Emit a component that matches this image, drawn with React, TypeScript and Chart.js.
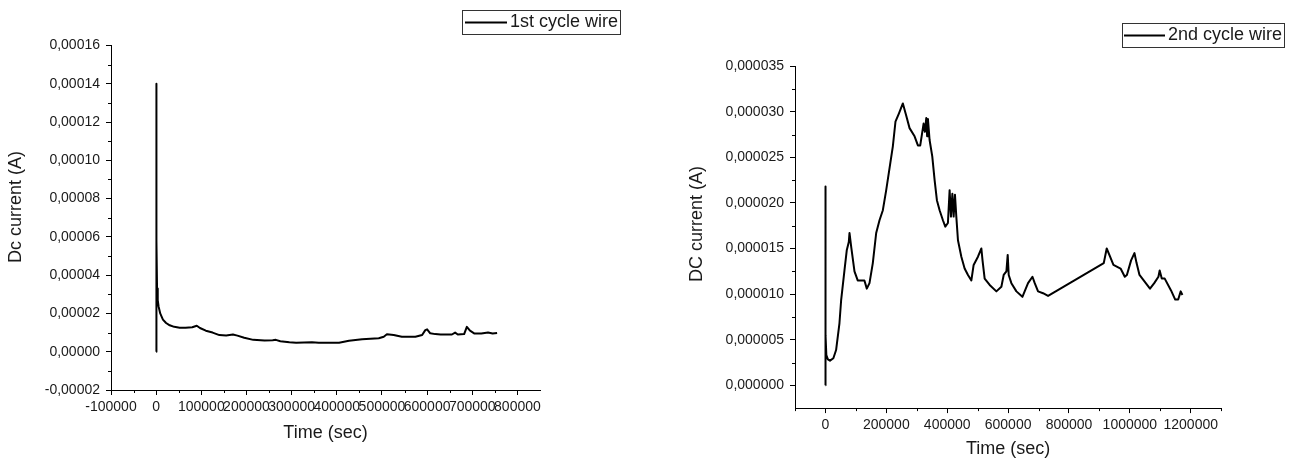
import React, { useEffect, useRef } from "react";
import { Chart, registerables } from "chart.js";

Chart.register(...registerables);

// ---------- data: 1st cycle wire ----------
const cycle1Label = "1st cycle wire";
const cycle1Time = [
  0, 0, 1200, 2000, 3500, 5500, 9000, 15000, 22000, 30000, 40000, 52000, 65000, 80000, 90000, 97000,
  110000, 125000, 140000, 155000, 170000, 180000, 195000, 215000, 240000, 258000, 265000, 275000, 295000,
  310000, 345000, 360000, 405000, 427000, 456000, 493000, 504000, 511000, 526000, 544000, 574000, 589000,
  596000, 600000, 607000, 618000, 630000, 655000, 662000, 668000, 682000, 688000, 695000, 705000, 720000,
  735000, 745000, 755000,
];
const cycle1Current = [
  0, 1.4e-4, 5.8e-5, 3.3e-5, 2.7e-5, 2.35e-5, 2.0e-5, 1.68e-5, 1.5e-5, 1.38e-5, 1.3e-5, 1.25e-5, 1.25e-5,
  1.28e-5, 1.36e-5, 1.24e-5, 1.1e-5, 1.0e-5, 8.7e-6, 8.5e-6, 9.0e-6, 8.4e-6, 7.3e-6, 6.2e-6, 5.8e-6, 6.0e-6,
  6.2e-6, 5.5e-6, 4.9e-6, 4.7e-6, 5.0e-6, 4.7e-6, 4.7e-6, 5.7e-6, 6.5e-6, 7.0e-6, 7.8e-6, 9.1e-6, 8.7e-6,
  7.8e-6, 7.8e-6, 8.7e-6, 1.13e-5, 1.17e-5, 9.6e-6, 9.2e-6, 9.0e-6, 9.0e-6, 1.0e-5, 9.0e-6, 9.2e-6, 1.3e-5,
  1.1e-5, 9.5e-6, 9.5e-6, 1.0e-5, 9.5e-6, 9.8e-6,
];
const cycle1TimeTicks = [-100000, 0, 100000, 200000, 300000, 400000, 500000, 600000, 700000, 800000];
const cycle1TimeMinor = [-50000, 50000, 150000, 250000, 350000, 450000, 550000, 650000, 750000];
const cycle1CurrentTicks = [-0.00002, 0, 0.00002, 0.00004, 0.00006, 0.00008, 0.0001, 0.00012, 0.00014, 0.00016];
const cycle1CurrentMinor = [-0.00001, 0.00001, 0.00003, 0.00005, 0.00007, 0.00009, 0.00011, 0.00013, 0.00015];

// ---------- data: 2nd cycle wire ----------
const cycle2Label = "2nd cycle wire";
const cycle2Time = [
  0, 0, 500, 3000, 8000, 15000, 26000, 35000, 46000, 51600, 62500, 70000, 76700, 79000, 84500, 95400,
  106000, 128000, 135900, 144700, 155600, 166700, 177600, 188600, 199600, 212800, 221400, 230000, 241200,
  254300, 265000, 276300, 292800, 303700, 311400, 322400, 326800, 331200, 334000, 336700, 342100, 350900,
  358600, 366100, 375000, 385900, 393700, 402300, 407900, 412300, 416900, 421100, 425500, 429900, 435300,
  446400, 457200, 468200, 479300, 486800, 501000, 512200, 516000, 523000, 539500, 561500, 577900, 585500,
  594400, 598700, 602000, 610800, 627300, 647000, 665500, 680000, 687500, 698400, 714800, 731300, 914200,
  923900, 935000, 946000, 969500, 983300, 990200, 1004000, 1015000, 1022000, 1031600, 1045400, 1066100,
  1080000, 1093800, 1097900, 1104800, 1114500, 1135200, 1149000, 1158700, 1167000, 1172500,
];
const cycle2Current = [
  0, 2.18e-5, 5.5e-6, 3.3e-6, 2.85e-6, 2.7e-6, 2.96e-6, 3.87e-6, 6.8e-6, 9.35e-6, 1.26e-5, 1.48e-5, 1.57e-5,
  1.67e-5, 1.52e-5, 1.25e-5, 1.15e-5, 1.15e-5, 1.06e-5, 1.12e-5, 1.34e-5, 1.67e-5, 1.81e-5, 1.92e-5, 2.14e-5,
  2.43e-5, 2.62e-5, 2.89e-5, 2.98e-5, 3.09e-5, 2.96e-5, 2.82e-5, 2.73e-5, 2.63e-5, 2.63e-5, 2.87e-5, 2.78e-5,
  2.93e-5, 2.73e-5, 2.92e-5, 2.69e-5, 2.51e-5, 2.25e-5, 2.03e-5, 1.92e-5, 1.81e-5, 1.74e-5, 1.78e-5, 2.14e-5,
  1.85e-5, 2.1e-5, 1.85e-5, 2.09e-5, 1.85e-5, 1.59e-5, 1.41e-5, 1.28e-5, 1.21e-5, 1.15e-5, 1.32e-5, 1.41e-5,
  1.5e-5, 1.37e-5, 1.17e-5, 1.1e-5, 1.03e-5, 1.08e-5, 1.21e-5, 1.25e-5, 1.43e-5, 1.21e-5, 1.12e-5, 1.03e-5,
  9.7e-6, 1.12e-5, 1.19e-5, 1.12e-5, 1.03e-5, 1.01e-5, 9.8e-6, 1.34e-5, 1.5e-5, 1.41e-5, 1.32e-5, 1.28e-5,
  1.19e-5, 1.21e-5, 1.37e-5, 1.45e-5, 1.34e-5, 1.21e-5, 1.15e-5, 1.06e-5, 1.12e-5, 1.19e-5, 1.26e-5, 1.17e-5,
  1.17e-5, 1.04e-5, 9.4e-6, 9.4e-6, 1.03e-5, 9.9e-6,
];
const cycle2TimeTicks = [0, 200000, 400000, 600000, 800000, 1000000, 1200000];
const cycle2TimeMinor = [-100000, 100000, 300000, 500000, 700000, 900000, 1100000, 1300000];
const cycle2CurrentTicks = [0, 0.000005, 0.00001, 0.000015, 0.00002, 0.000025, 0.00003, 0.000035];
const cycle2CurrentMinor = [0.0000025, 0.0000075, 0.0000125, 0.0000175, 0.0000225, 0.0000275, 0.0000325];

const FONT = '"Liberation Sans", Arial, Helvetica, sans-serif';
const TEXT = "#1a1a1a";

type Cfg = {
  left: number;
  width: number;
  height: number;
  time: number[];
  current: number[];
  label: string;
  xMin: number;
  xMax: number;
  yMin: number;
  yMax: number;
  xTicks: number[];
  xMinor: number[];
  yTicks: number[];
  yMinor: number[];
  yDecimals: number;
  yTitle: string;
  padding: { left: number; right: number; top: number; bottom: number };
  yAxisWidth: number;
  xAxisHeight: number;
  yTitleX: number;
  yTitleY: number;
  legend: { x: number; y: number; w: number; h: number; l1: number; l2: number; tx: number };
};

function PlotPanel({ cfg }: { cfg: Cfg }) {
  const ref = useRef<HTMLCanvasElement | null>(null);

  useEffect(() => {
    if (!ref.current) return;
    const extras = {
      id: "extras",
      afterDraw(chart: any) {
        const ctx = chart.ctx as CanvasRenderingContext2D;
        const xs = chart.scales.x;
        const ys = chart.scales.y;
        const { left, bottom } = chart.chartArea;
        ctx.save();
        // minor ticks
        ctx.strokeStyle = "#000";
        ctx.lineWidth = 1;
        ctx.beginPath();
        for (const v of cfg.xMinor) {
          const px = Math.round(xs.getPixelForValue(v)) + 0.5;
          ctx.moveTo(px, bottom);
          ctx.lineTo(px, bottom + 3);
        }
        for (const v of cfg.yMinor) {
          const py = Math.round(ys.getPixelForValue(v)) + 0.5;
          ctx.moveTo(left, py);
          ctx.lineTo(left - 3, py);
        }
        ctx.stroke();
        // y axis title
        ctx.save();
        ctx.translate(cfg.yTitleX, cfg.yTitleY);
        ctx.rotate(-Math.PI / 2);
        ctx.font = `18px ${FONT}`;
        ctx.fillStyle = TEXT;
        ctx.textAlign = "center";
        ctx.textBaseline = "middle";
        ctx.fillText(cfg.yTitle, 0, 0);
        ctx.restore();
        // legend
        const lg = cfg.legend;
        ctx.strokeStyle = "#333";
        ctx.lineWidth = 1;
        ctx.strokeRect(lg.x + 0.5, lg.y + 0.5, lg.w, lg.h);
        const my = lg.y + lg.h / 2 + 0.5;
        ctx.strokeStyle = "#000";
        ctx.lineWidth = 2;
        ctx.beginPath();
        ctx.moveTo(lg.l1, my);
        ctx.lineTo(lg.l2, my);
        ctx.stroke();
        ctx.font = `18px ${FONT}`;
        ctx.fillStyle = TEXT;
        ctx.textAlign = "left";
        ctx.textBaseline = "middle";
        ctx.fillText(cfg.label, lg.tx, my);
        ctx.restore();
      },
    };

    const chart = new Chart(ref.current, {
      type: "line",
      data: {
        datasets: [
          {
            label: cfg.label,
            data: cfg.time.map((t, i) => ({ x: t, y: cfg.current[i] })),
            borderColor: "#000",
            borderWidth: 2,
            borderJoinStyle: "round",
            pointRadius: 0,
            tension: 0,
            fill: false,
          },
        ],
      },
      options: {
        responsive: false,
        animation: false,
        devicePixelRatio: 1,
        events: [],
        layout: { padding: cfg.padding },
        plugins: { legend: { display: false }, tooltip: { enabled: false } },
        scales: {
          x: {
            type: "linear",
            min: cfg.xMin,
            max: cfg.xMax,
            afterBuildTicks: (s: any) => {
              s.ticks = cfg.xTicks.map((v) => ({ value: v }));
            },
            afterFit: (s: any) => {
              s.height = cfg.xAxisHeight;
            },
            grid: { drawOnChartArea: false, drawTicks: true, tickLength: 5, tickColor: "#000", tickWidth: 1 },
            border: { display: true, color: "#000", width: 1 },
            ticks: {
              autoSkip: false,
              maxRotation: 0,
              minRotation: 0,
              padding: 4,
              color: TEXT,
              font: { family: FONT, size: 14 },
              callback: (v: any) => String(v),
            },
            title: {
              display: true,
              text: "Time (sec)",
              color: TEXT,
              padding: 0,
              font: { family: FONT, size: 18 },
            },
          },
          y: {
            type: "linear",
            min: cfg.yMin,
            max: cfg.yMax,
            afterBuildTicks: (s: any) => {
              s.ticks = cfg.yTicks.map((v) => ({ value: v }));
            },
            afterFit: (s: any) => {
              s.width = cfg.yAxisWidth;
            },
            grid: { drawOnChartArea: false, drawTicks: true, tickLength: 5, tickColor: "#000", tickWidth: 1 },
            border: { display: true, color: "#000", width: 1 },
            ticks: {
              autoSkip: false,
              padding: 6,
              color: TEXT,
              font: { family: FONT, size: 14 },
              callback: (v: any) => Number(v).toFixed(cfg.yDecimals).replace(".", ","),
            },
          },
        },
      },
      plugins: [extras],
    } as any);
    return () => chart.destroy();
  }, [cfg]);

  return (
    <canvas
      ref={ref}
      width={cfg.width}
      height={cfg.height}
      style={{ position: "absolute", left: cfg.left, top: 0, width: cfg.width, height: cfg.height }}
    />
  );
}

const leftCfg: Cfg = {
  left: 0,
  width: 640,
  height: 463,
  time: cycle1Time,
  current: cycle1Current,
  label: cycle1Label,
  xMin: -100000,
  xMax: 850000,
  yMin: -0.00002,
  yMax: 0.00016,
  xTicks: cycle1TimeTicks,
  xMinor: cycle1TimeMinor,
  yTicks: cycle1CurrentTicks,
  yMinor: cycle1CurrentMinor,
  yDecimals: 5,
  yTitle: "Dc current (A)",
  padding: { left: 6, right: 100, top: 45.5, bottom: 19.5 },
  yAxisWidth: 105,
  xAxisHeight: 53.5,
  yTitleX: 16.5,
  yTitleY: 207,
  legend: { x: 462, y: 10, w: 158, h: 24, l1: 465, l2: 507, tx: 510 },
};

const rightCfg: Cfg = {
  left: 640,
  width: 655,
  height: 463,
  time: cycle2Time,
  current: cycle2Current,
  label: cycle2Label,
  xMin: -100000,
  xMax: 1300000,
  yMin: -0.0000025,
  yMax: 0.000035,
  xTicks: cycle2TimeTicks,
  xMinor: cycle2TimeMinor,
  yTicks: cycle2CurrentTicks,
  yMinor: cycle2CurrentMinor,
  yDecimals: 6,
  yTitle: "DC current (A)",
  padding: { left: 47, right: 73.8, top: 66.1, bottom: 2.8 },
  yAxisWidth: 108,
  xAxisHeight: 52.1,
  yTitleX: 57.3,
  yTitleY: 224,
  legend: { x: 482, y: 23, w: 162, h: 24, l1: 484, l2: 525, tx: 528 },
};

export default function App() {
  return (
    <div style={{ position: "absolute", left: 0, top: 0, width: 1295, height: 463, background: "#fff" }}>
      <PlotPanel cfg={leftCfg} />
      <PlotPanel cfg={rightCfg} />
    </div>
  );
}
